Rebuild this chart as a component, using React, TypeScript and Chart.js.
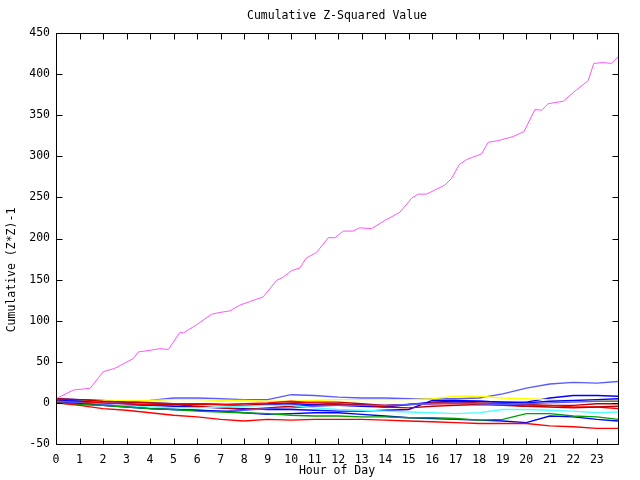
import React, { useEffect, useRef } from "react";
import { Chart, registerables } from "chart.js";

Chart.register(...registerables);

const TITLE = "Cumulative Z-Squared Value";
const X_TITLE = "Hour of Day";
const Y_TITLE = "Cumulative (Z*Z)-1";

const X_TICKS = [0,1,2,3,4,5,6,7,8,9,10,11,12,13,14,15,16,17,18,19,20,21,22,23];
const Y_TICKS = [-50,0,50,100,150,200,250,300,350,400,450];

const HOURS = [0,1,2,3,4,5,6,7,8,9,10,11,12,13,14,15,16,17,18,19,20,21,22,23,23.9];

const MAG_H = [0,0.74,1.45,2.01,2.5,3.29,3.5,4.0,4.42,4.78,5.27,5.41,5.98,6.62,6.97,7.4,7.82,8.22,8.81,9.38,9.66,10.02,10.37,10.63,11.08,11.58,11.86,12.22,12.64,12.9,13.42,13.99,14.63,15.12,15.4,15.76,16.54,16.82,17.15,17.46,18.1,18.38,18.8,19.44,19.9,20.37,20.65,20.93,21.57,22.14,22.63,22.87,23.27,23.62,23.9];
const MAG_V = [5,15.7,17.8,38,42,54,62,64,66,65,86,85,95,108,110,112,119,123,129,149,153,161,164,176,183,201,201,209,209,213,212,222,232,249,254,254,265,273,290,296,303,317,319,324,330,357,356,364,367,381,392,413,414,413,421];

const LB1 = [3,3,2,1,3,6,6,5,4,4,10,9,7,6,6,5,5,5,6,11,18,23,25,24,26];
const YEL = [0,2,3,3,3,4,4,3,3,2,2,3,4,4,4,4,5,8,8,6,5,4,2,2,3];
const B1 = [5,4,3,1,0,-1,-1,-2,-3,-2,-1,-2,-3,-4,-5,-2,1,2,2,1,1,6,9,9,8];
const B2 = [0,-1,-3,-5,-7,-8,-9,-10,-12,-14,-13,-12,-12,-14,-16,-18,-19,-20,-21,-22,-24,-16,-17,-20,-22];
const G1 = [0,-2,-3,-5,-7,-8,-10,-11,-12,-13,-15,-16,-16,-17,-17,-18,-18,-19,-21,-20,-13,-13,-16,-17,-20];
const C1 = [0,-2,-3,-4,-5,-6,-6,-5,-4,-3,-3,-6,-8,-9,-10,-11,-12,-13,-12,-8,-8,-9,-10,-12,-11];
const R1 = [2,1,0,-1,-2,-1,-1,-2,-1,0,2,0,-1,-3,-3,-2,-1,-1,-1,-2,-4,-3,-5,-5,-7];
const DR1 = [5,4,2,1,0,-1,-2,-2,-3,-1,0,1,1,-1,-3,-2,0,1,0,-1,-2,-3,-3,-1,-1];
const DR2 = [1,-1,-3,-4,-3,-2,-4,-6,-8,-6,-4,-3,-2,-2,-5,-6,-4,-3,-2,-3,-4,-5,-6,-5,-4];
const R2 = [0,-3,-7,-9,-12,-15,-17,-20,-22,-20,-21,-20,-20,-20,-21,-22,-23,-24,-25,-25,-25,-28,-29,-31,-31];
const LB2 = [2,0,-2,-4,-7,-8,-9,-10,-9,-7,-6,-4,-3,-3,-3,-2,-1,0,-1,-2,-1,0,1,2,2];
const B3 = [3,2,0,-1,-3,-4,-5,-6,-7,-8,-8,-9,-10,-10,-9,-8,3,3,2,1,0,2,3,4,5];

const SERIES: [number[], string][] = [
  [R2, "#ff0000"],
  [G1, "#00a000"],
  [B2, "#0000ff"],
  [C1, "#55ffff"],
  [LB2, "#5a5aff"],
  [DR2, "#c00000"],
  [R1, "#ff0000"],
  [B3, "#0000ff"],
  [DR1, "#c00000"],
  [YEL, "#ffff00"],
  [B1, "#0000ff"],
  [LB1, "#5a5aff"],
];

const FONT = "DejaVu Sans Mono";
const FSIZE = 11.5;

const framePlugin = {
  id: "gnuframe",
  afterDraw(chart: any) {
    const { ctx, chartArea } = chart;
    const { left, right, top, bottom } = chartArea;
    const xs = chart.scales.x;
    const ys = chart.scales.y;
    ctx.save();
    ctx.strokeStyle = "#000";
    ctx.lineWidth = 1;
    ctx.beginPath();
    const L = Math.round(left) + 0.5, R = Math.round(right) + 0.5;
    const T = Math.round(top) + 0.5, B = Math.round(bottom) + 0.5;
    ctx.rect(L, T, R - L, B - T);
    const tl = 6;
    X_TICKS.forEach((v) => {
      const px = Math.round(xs.getPixelForValue(v)) + 0.5;
      ctx.moveTo(px, B); ctx.lineTo(px, B - tl);
      ctx.moveTo(px, T); ctx.lineTo(px, T + tl);
    });
    Y_TICKS.forEach((v) => {
      const py = Math.round(ys.getPixelForValue(v)) + 0.5;
      ctx.moveTo(L, py); ctx.lineTo(L + tl, py);
      ctx.moveTo(R, py); ctx.lineTo(R - tl, py);
    });
    ctx.stroke();
    ctx.fillStyle = "#000";
    ctx.font = `${FSIZE}px "${FONT}"`;
    ctx.textAlign = "center";
    ctx.textBaseline = "middle";
    ctx.fillText(TITLE, 337, 16);
    ctx.fillText(X_TITLE, 337, 471);
    ctx.translate(12, 270);
    ctx.rotate(-Math.PI / 2);
    ctx.fillText(Y_TITLE, 0, 0);
    ctx.restore();
  },
};

export default function App() {
  const ref = useRef<HTMLCanvasElement>(null);
  useEffect(() => {
    if (!ref.current) return;
    const datasets: any[] = [
      {
        data: MAG_H.map((h, i) => ({ x: h, y: MAG_V[i] })),
        borderColor: "#ff55ff",
        borderWidth: 1,
        pointRadius: 0,
        fill: false,
        tension: 0,
      },
      ...SERIES.map(([vals, color]) => ({
        data: HOURS.map((h, i) => ({ x: h, y: vals[i] })),
        borderColor: color,
        borderWidth: 1.4,
        pointRadius: 0,
        fill: false,
        tension: 0,
      })),
    ];
    const chart = new Chart(ref.current, {
      type: "line",
      data: { datasets },
      plugins: [framePlugin],
      options: {
        animation: false,
        responsive: false,
        devicePixelRatio: 1,
        layout: { padding: { top: 33, right: 22, left: 0, bottom: 0 } },
        plugins: { legend: { display: false }, title: { display: false }, tooltip: { enabled: false } },
        scales: {
          x: {
            type: "linear",
            min: 0,
            max: 23.9,
            grid: { display: false, drawTicks: false },
            border: { display: false },
            ticks: {
              color: "#000",
              font: { family: FONT, size: FSIZE },
              padding: 9,
              maxRotation: 0,
              autoSkip: false,
              callback: (v: any) => String(v),
            },
            afterBuildTicks: (s: any) => { s.ticks = X_TICKS.map((v) => ({ value: v })); },
            afterFit: (s: any) => { s.height = 36; },
          },
          y: {
            type: "linear",
            min: -50,
            max: 450,
            grid: { display: false, drawTicks: false },
            border: { display: false },
            ticks: {
              color: "#000",
              font: { family: FONT, size: FSIZE },
              padding: 6,
              autoSkip: false,
              callback: (v: any) => String(v),
            },
            afterBuildTicks: (s: any) => { s.ticks = Y_TICKS.map((v) => ({ value: v })); },
            afterFit: (s: any) => { s.width = 56; },
          },
        },
      },
    } as any);
    return () => chart.destroy();
  }, []);
  return (
    <div style={{ position: "absolute", left: 0, top: 0, width: 640, height: 480, background: "#fff" }}>
      <canvas ref={ref} width={640} height={480} />
    </div>
  );
}
